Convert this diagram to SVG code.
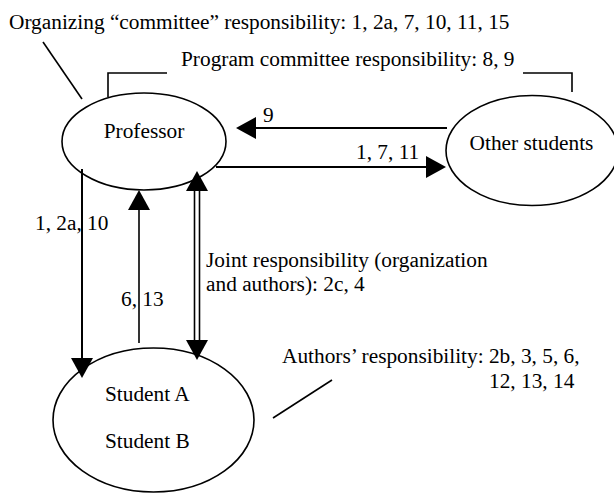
<svg xmlns="http://www.w3.org/2000/svg" width="614" height="493" viewBox="0 0 614 493">
<defs>
<marker id="ah" markerUnits="userSpaceOnUse" markerWidth="20" markerHeight="22" viewBox="0 0 20 22" refX="0" refY="11" orient="auto-start-reverse">
<path d="M0,0 L20,11 L0,22 Z" fill="#000"/>
</marker>
</defs>
<style>
text{font-family:"Liberation Serif","Times New Roman",serif;font-size:21.33px;fill:#000}
.n{fill:#fff;stroke:#000;stroke-width:1.6}
.c{stroke:#000;fill:none}
.t2{stroke-width:2}
.t15{stroke-width:1.6}
.m{marker-end:url(#ah)}
</style>
<rect width="614" height="493" fill="#fff"/>
<g id="node-professor">
<ellipse class="n" cx="144" cy="141.5" rx="82" ry="48.5"/>
<text x="144" y="138" text-anchor="middle">Professor</text>
</g>
<g id="node-other-students">
<ellipse class="n" cx="532" cy="150.5" rx="86" ry="55"/>
<text x="531.5" y="150" text-anchor="middle">Other students</text>
</g>
<g id="node-students">
<ellipse class="n" cx="153.5" cy="420" rx="100.5" ry="72"/>
<text x="105" y="401">Student A</text>
<text x="105" y="448">Student B</text>
</g>
<g id="connectors">
<line class="c t2 m" x1="447" y1="128" x2="256" y2="128"/>
<line class="c t2 m" x1="216" y1="167" x2="426" y2="167"/>
<line class="c t2 m" x1="82" y1="169" x2="82" y2="358"/>
<line class="c t15 m" x1="139" y1="343" x2="139" y2="210"/>
<line class="c t15" x1="194.5" y1="190" x2="194.5" y2="341"/>
<line class="c t15" x1="199.5" y1="190" x2="199.5" y2="341"/>
<path d="M197,191 L197,340" stroke="none" fill="none" marker-start="url(#ah)" marker-end="url(#ah)"/>
<line class="c t15" x1="43" y1="42" x2="82" y2="99"/>
<polyline class="c t15" points="167,73 108,73 108,97"/>
<polyline class="c t15" points="523,73 572,73 572,92"/>
<line class="c t15" x1="273" y1="418" x2="332" y2="380"/>
</g>
<g id="labels">
<text x="9" y="29">Organizing “committee” responsibility: 1, 2a, 7, 10, 11, 15</text>
<text x="181" y="66">Program committee responsibility: 8, 9</text>
<text x="263" y="122">9</text>
<text x="356" y="159">1, 7, 11</text>
<text x="35" y="230">1, 2a, 10</text>
<text x="121" y="306">6, 13</text>
<text x="206" y="267">Joint responsibility (organization</text>
<text x="206" y="291">and authors): 2c, 4</text>
<text x="282" y="363">Authors’ responsibility: 2b, 3, 5, 6,</text>
<text x="489" y="388">12, 13, 14</text>
</g>
</svg>
